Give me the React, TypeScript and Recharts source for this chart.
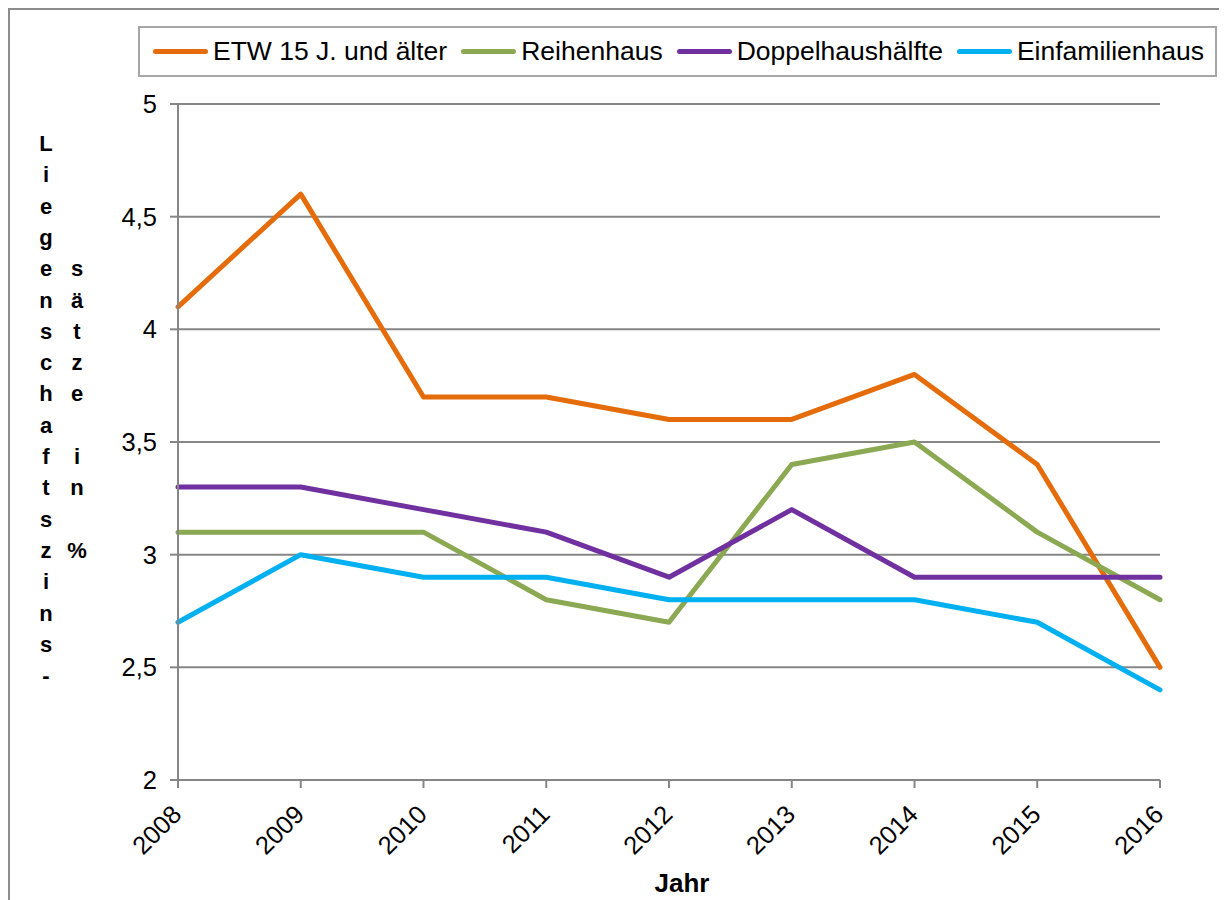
import React from "react";
import {
  CartesianGrid,
  Line,
  LineChart,
  XAxis,
  YAxis,
} from "recharts";

const years = ["2008", "2009", "2010", "2011", "2012", "2013", "2014", "2015", "2016"];
const etw = [4.1, 4.6, 3.7, 3.7, 3.6, 3.6, 3.8, 3.4, 2.5];
const reihenhaus = [3.1, 3.1, 3.1, 2.8, 2.7, 3.4, 3.5, 3.1, 2.8];
const doppelhaus = [3.3, 3.3, 3.2, 3.1, 2.9, 3.2, 2.9, 2.9, 2.9];
const einfamilien = [2.7, 3.0, 2.9, 2.9, 2.8, 2.8, 2.8, 2.7, 2.4];
const yTicks = [2, 2.5, 3, 3.5, 4, 4.5, 5];

const series = [
  { key: "etw", name: "ETW 15 J. und älter", color: "#E46C0A" },
  { key: "reihen", name: "Reihenhaus", color: "#8BA852" },
  { key: "doppel", name: "Doppelhaushälfte", color: "#7030A0" },
  { key: "einfam", name: "Einfamilienhaus", color: "#00B0F0" },
];

const data = years.map((year, i) => ({
  year,
  etw: etw[i],
  reihen: reihenhaus[i],
  doppel: doppelhaus[i],
  einfam: einfamilien[i],
}));

// the y label is drawn letter by letter in two columns, like the original
const labelCol1 = "Liegenschaftszins-".split("");
const labelCol2 = ["s", "ä", "t", "z", "e", "", "i", "n", "", "%"];

const FONT = "'Liberation Sans', Arial, sans-serif";
const AXIS = "#868686";

function XTick(props: any) {
  const { x, y, payload } = props;
  return (
    <text
      x={x + 5}
      y={y + 28}
      transform={`rotate(-45, ${x + 5}, ${y + 28})`}
      textAnchor="end"
      fontSize={25.5}
      fontFamily={FONT}
      fill="#000"
    >
      {payload.value}
    </text>
  );
}

function YLabel() {
  const rowH = 31.3;
  const top = 133 + 8;
  return (
    <g fontFamily={FONT} fontSize={22} fontWeight="bold" fill="#000" textAnchor="middle">
      {labelCol1.map((c, i) => (
        <text key={"a" + i} x={36} y={top + i * rowH}>
          {c}
        </text>
      ))}
      {labelCol2.map((c, i) => (
        <text key={"b" + i} x={67} y={top + (i + 4) * rowH}>
          {c}
        </text>
      ))}
    </g>
  );
}

function LegendBox() {
  return (
    <div
      style={{
        position: "absolute",
        left: 128,
        top: 16,
        width: 1079,
        height: 51,
        display: "flex",
        alignItems: "center",
        boxSizing: "border-box",
        border: "2px solid #a6a6a6",
        paddingLeft: 13,
        fontFamily: FONT,
        fontSize: 26.5,
        color: "#000",
        whiteSpace: "nowrap",
      }}
    >
      {series.map((s) => (
        <div key={s.key} style={{ display: "flex", alignItems: "center", marginRight: 14 }}>
          <span
            style={{
              display: "inline-block",
              width: 55,
              height: 5,
              borderRadius: 3,
              background: s.color,
              marginRight: 5,
            }}
          />
          <span>{s.name}</span>
        </div>
      ))}
    </div>
  );
}

export default function App() {
  return (
    <div
      style={{
        position: "relative",
        width: 1219,
        height: 892,
        boxSizing: "border-box",
        borderLeft: "2px solid #8c8c8c",
        borderTop: "2px solid #8c8c8c",
        background: "#fff",
      }}
    >
      <LegendBox />
      <LineChart
        width={1217}
        height={890}
        data={data}
        margin={{ top: 94, right: 67, bottom: 30, left: 0 }}
      >
        <CartesianGrid horizontal vertical={false} stroke={AXIS} strokeWidth={2} />
        <XAxis
          dataKey="year"
          height={90}
          stroke={AXIS}
          strokeWidth={2}
          tickSize={8}
          tickMargin={0}
          tick={<XTick />}
          interval={0}
          label={(props: any) => {
            const vb = props.viewBox;
            return (
              <text
                x={vb.x + vb.width / 2 + 13}
                y={vb.y + 112}
                textAnchor="middle"
                fontFamily={FONT}
                fontSize={26}
                fontWeight="bold"
                fill="#000"
              >
                Jahr
              </text>
            );
          }}
        />
        <YAxis
          width={168}
          domain={[2, 5]}
          ticks={yTicks}
          allowDataOverflow
          stroke={AXIS}
          strokeWidth={2}
          tickSize={8}
          tickMargin={13}
          tick={{ fill: "#000", fontSize: 25.5, fontFamily: FONT }}
          tickFormatter={(v: number) => String(v).replace(".", ",")}
          label={<YLabel />}
        />
        {series.map((s) => (
          <Line
            key={s.key}
            type="linear"
            dataKey={s.key}
            name={s.name}
            stroke={s.color}
            strokeWidth={5}
            strokeLinecap="round"
            strokeLinejoin="round"
            dot={false}
            activeDot={false}
            isAnimationActive={false}
          />
        ))}
      </LineChart>
    </div>
  );
}
